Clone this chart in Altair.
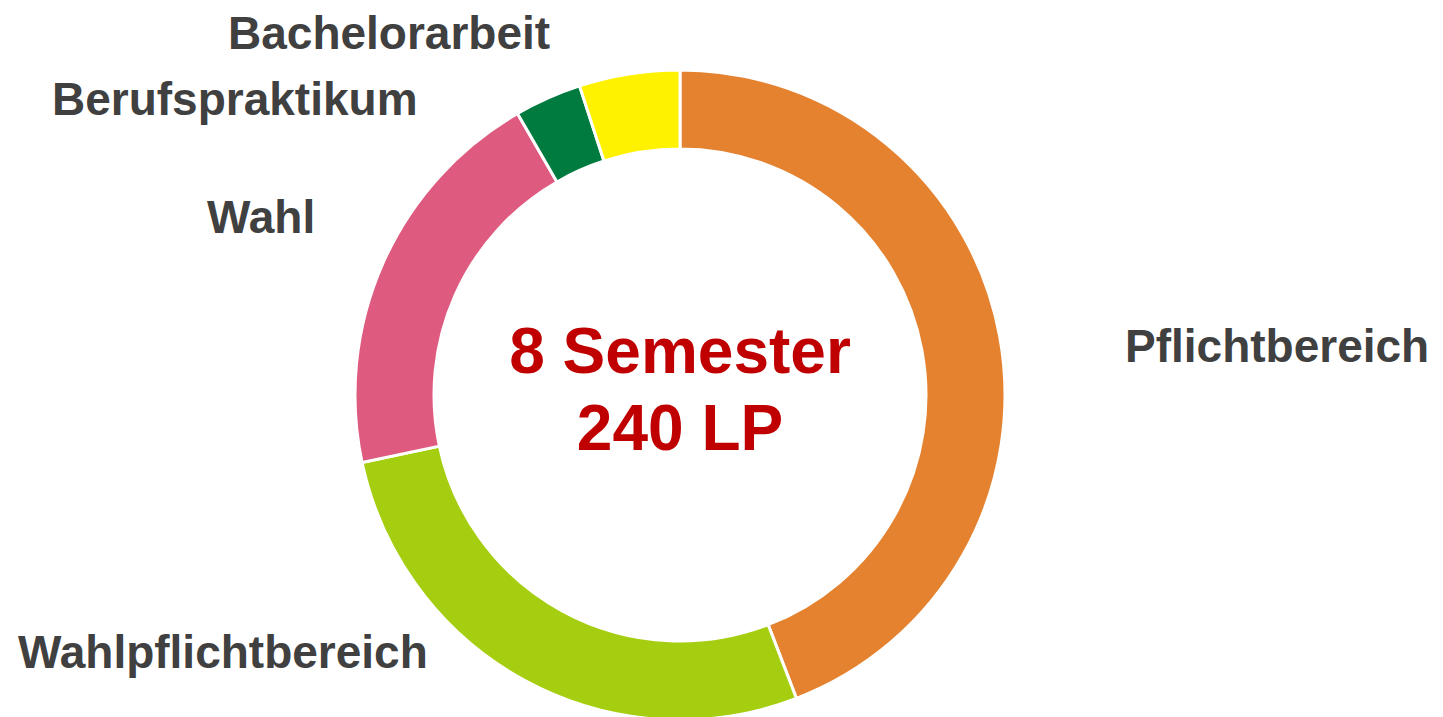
import altair as alt
import pandas as pd

# Data (LP = Leistungspunkte), clockwise from 12 o'clock
categories = ["Pflichtbereich", "Wahlpflichtbereich", "Wahl", "Berufspraktikum", "Bachelorarbeit"]
values = [106, 66, 48, 8, 12]
colors = ["#E5822F", "#A6CE11", "#DF5A7F", "#007B40", "#FFF200"]
center_lines = ["8 Semester", "240 LP"]

df = pd.DataFrame({"Bereich": categories, "LP": values, "order": list(range(len(categories)))})

CX, CY = 672, 387
R_OUT, R_IN = 325, 246

donut = alt.Chart(df).mark_arc(
    innerRadius=R_IN, outerRadius=R_OUT, stroke="white", strokeWidth=3
).encode(
    theta=alt.Theta("LP:Q", stack=True),
    order=alt.Order("order:Q"),
    color=alt.Color("Bereich:N", scale=alt.Scale(domain=categories, range=colors), legend=None),
    x=alt.value(CX),
    y=alt.value(CY),
)

# label placement (left edge, baseline) in chart pixels
label_pos = {
    "Pflichtbereich": (1117, 354),
    "Wahlpflichtbereich": (10, 660),
    "Wahl": (199, 225),
    "Berufspraktikum": (44, 107),
    "Bachelorarbeit": (220, 41),
}
lab_df = pd.DataFrame({
    "Bereich": categories,
    "lx": [label_pos[c][0] for c in categories],
    "ly": [label_pos[c][1] for c in categories],
})

labels = alt.Chart(lab_df).mark_text(
    align="left", baseline="alphabetic", font="Liberation Sans", fontWeight="bold",
    fontSize=46, color="#404040"
).encode(
    x=alt.X("lx:Q", scale=None, axis=None),
    y=alt.Y("ly:Q", scale=None, axis=None),
    text="Bereich:N",
)

cdf = pd.DataFrame({"t": center_lines, "ly": [365, 442]})
center = alt.Chart(cdf).mark_text(
    align="center", baseline="alphabetic", font="Liberation Sans", fontWeight="bold",
    fontSize=64, color="#C00000"
).encode(
    x=alt.value(CX),
    y=alt.Y("ly:Q", scale=None, axis=None),
    text="t:N",
)

chart = alt.layer(donut, labels, center).properties(
    width=1427, height=709, padding=0, autosize=alt.AutoSizeParams(type="none")
).configure_view(stroke=None)

chart.save("out.html", embed_options={"renderer": "svg", "actions": False})
